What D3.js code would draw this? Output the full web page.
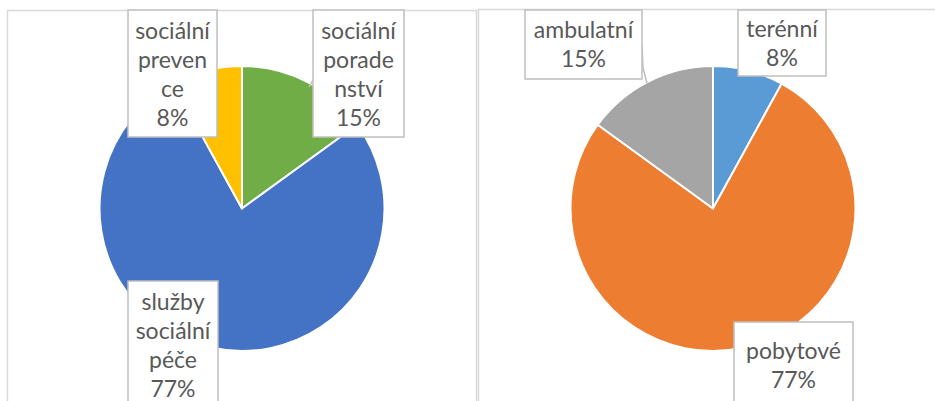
<!DOCTYPE html>
<html>
<head>
<meta charset="utf-8">
<script src="https://cdn.jsdelivr.net/npm/d3@7"></script>
<style>
  body { margin: 0; background: #fff; }
  svg { display: block; }
  .lbl text { font-family: Lato, "Open Sans", sans-serif; font-size: 23px; fill: #595959; text-anchor: middle; }
</style>
</head>
<body>
<div id="chart"></div>
<script>
// chart 1 - druhy sluzeb
var cats1 = ['sociální poradenství', 'služby sociální péče', 'sociální prevence'];
var vals1 = [15, 77, 8];
var lines1 = [['sociální', 'porade', 'nství', '15%'], ['služby', 'sociální', 'péče', '77%'], ['sociální', 'preven', 'ce', '8%']];

// chart 2 - forma sluzeb
var cats2 = ['terénní', 'pobytové', 'ambulatní'];
var vals2 = [8, 77, 15];
var lines2 = [['terénní', '8%'], ['pobytové', '77%'], ['ambulatní', '15%']];

var colors1 = ['#70AD47', '#4472C4', '#FFC000'];
var colors2 = ['#5B9BD5', '#ED7D31', '#A5A5A5'];

var width = 935, height = 401;
var svg = d3.select('#chart').append('svg')
  .attr('width', width)
  .attr('height', height);

// label box placement (manually placed in the original, like excel does)
var boxes1 = [
  {x: 313, y: 10, w: 91, h: 127, base: 39},
  {x: 128, y: 281, w: 90, h: 150, base: 310},
  {x: 128, y: 10, w: 89, h: 127, base: 39}
];
var boxes2 = [
  {x: 738, y: 10, w: 88, h: 66, base: 37},
  {x: 734, y: 322, w: 119, h: 100, base: 359},
  {x: 525, y: 10, w: 117, h: 69, base: 38}
];
var leaders1 = [[[309, 87], [313, 80]], null, null];
var leaders2 = [null, null, [[642, 45], [643, 68], [647, 83]]];

function drawPie(opts) {
  var g = svg.append('g');

  // chart area border
  g.append('path')
    .attr('d', 'M' + opts.x0 + ',' + (height + 5) + 'V' + opts.y0 + 'H' + opts.x1 + (opts.rightBorder ? 'V' + (height + 5) : ''))
    .attr('fill', 'none')
    .attr('stroke', '#d9d9d9')
    .attr('stroke-width', 1.5);

  var pie = d3.pie().sort(null).value(function(d) { return d; });
  var arc = d3.arc().innerRadius(0).outerRadius(opts.r);

  var pg = g.append('g').attr('transform', 'translate(' + opts.cx + ',' + opts.cy + ')');
  pg.selectAll('path')
    .data(pie(opts.values))
    .enter().append('path')
      .attr('d', arc)
      .attr('fill', function(d, i) { return opts.colors[i]; })
      .attr('stroke', '#fff')
      .attr('stroke-width', 2)
      .attr('stroke-linejoin', 'round');

  // leader lines
  opts.leaders.forEach(function(l) {
    if (!l) return;
    g.append('path')
      .attr('d', d3.line()(l))
      .attr('fill', 'none')
      .attr('stroke', '#bfbfbf')
      .attr('stroke-width', 1.5);
  });

  // data labels
  var lbl = g.selectAll('.lbl')
    .data(opts.labels)
    .enter().append('g')
      .attr('class', 'lbl');
  lbl.append('rect')
    .attr('x', function(d, i) { return opts.boxes[i].x; })
    .attr('y', function(d, i) { return opts.boxes[i].y; })
    .attr('width', function(d, i) { return opts.boxes[i].w; })
    .attr('height', function(d, i) { return opts.boxes[i].h; })
    .attr('fill', '#fff')
    .attr('stroke', '#bfbfbf')
    .attr('stroke-width', 1.5);
  lbl.each(function(d, i) {
    var b = opts.boxes[i];
    var t = d3.select(this).append('text');
    d.forEach(function(s, j) {
      t.append('tspan')
        .attr('x', b.x + b.w / 2)
        .attr('y', b.base + j * 29)
        .text(s);
    });
  });
}

drawPie({x0: 7.5, x1: 476.5, y0: 10.5, rightBorder: true, cx: 242, cy: 208.5, r: 142.5,
  values: vals1, colors: colors1, labels: lines1, boxes: boxes1, leaders: leaders1});
drawPie({x0: 478.5, x1: width + 5, y0: 9.5, rightBorder: false, cx: 713, cy: 208.5, r: 142.5,
  values: vals2, colors: colors2, labels: lines2, boxes: boxes2, leaders: leaders2});
</script>
</body>
</html>
